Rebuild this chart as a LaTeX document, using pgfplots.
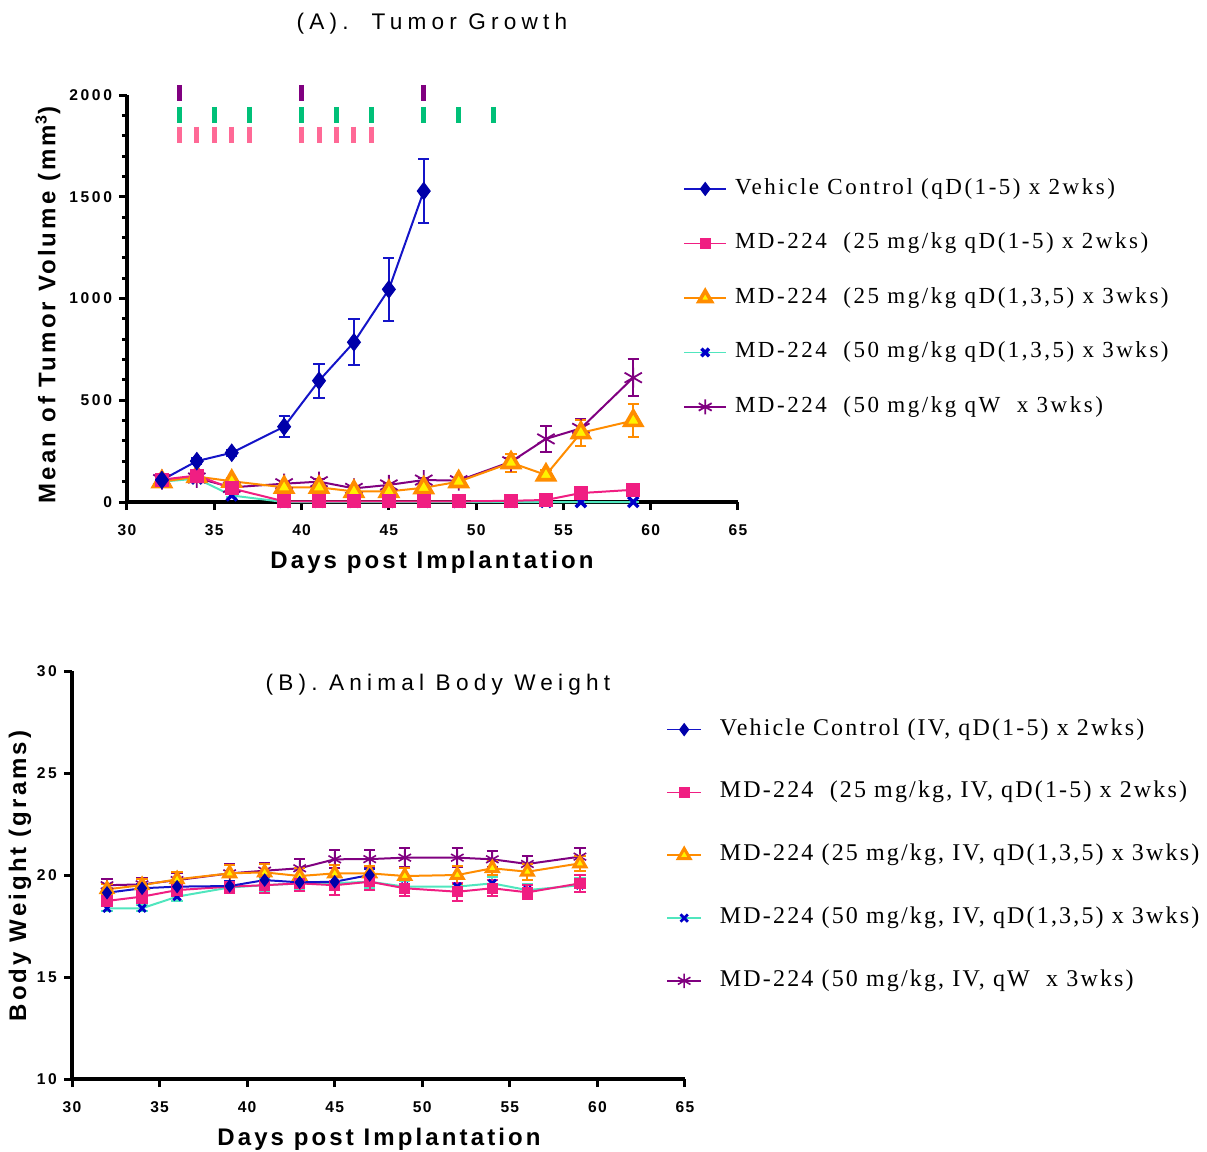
\documentclass[border=0pt]{standalone}
\usepackage{pgfplots}
\usepackage{pgfplotstable}
\pgfplotsset{compat=1.18}
\usepackage{fontspec}
\setmainfont{Liberation Sans}
\newfontfamily\labfont[LetterSpace=13]{Liberation Sans}
\newfontfamily\ytickfont[LetterSpace=17]{Liberation Sans}
\newfontfamily\xtickfont[LetterSpace=8]{Liberation Sans}
\newfontfamily\titfont[LetterSpace=23]{Liberation Sans}
\newfontfamily\legfont[LetterSpace=11]{Liberation Serif}
\newfontfamily\legfontb[LetterSpace=9]{Liberation Serif}

\definecolor{cblue}{RGB}{20,20,200}
\definecolor{cbluem}{RGB}{0,0,170}
\definecolor{cpink}{RGB}{240,30,130}
\definecolor{corange}{RGB}{255,140,0}
\definecolor{cteal}{RGB}{80,230,190}
\definecolor{cxblue}{RGB}{0,0,200}
\definecolor{cpurple}{RGB}{128,0,128}
\definecolor{dpink}{RGB}{255,105,150}
\definecolor{dgreen}{RGB}{0,192,120}

% ---------- (A) tumour volume ----------
\pgfplotstableread{
x y e
32 108 8
34 201 15
36 242 15
39 370 53
41 596 83
43 785 112
45 1045 156
47 1528 158
}\tvA
\pgfplotstableread{
x y e
32 110 10
34 130 15
36 67 10
39 3 1
41 3 1
43 3 1
45 3 1
47 3 1
49 3 1
52 6 2
54 10 3
56 44 6
59 60 8
}\tvB
\pgfplotstableread{
x y e
32 100 10
34 125 15
36 102 15
39 72 10
41 72 10
43 52 10
45 52 10
47 70 10
49 100 10
52 193 45
54 133 25
56 340 65
59 400 80
}\tvC
\pgfplotstableread{
x y e
32 100 8
34 115 10
36 32 8
39 0 1
41 0 1
43 0 1
45 0 1
47 0 1
49 0 1
52 0 1
54 0 1
56 0 1
59 0 1
}\tvD
\pgfplotstableread{
x y e
32 110 10
34 118 15
36 72 10
39 90 10
41 100 12
43 67 10
45 84 10
47 108 10
49 105 10
52 198 20
54 310 65
56 362 45
59 611 92
}\tvE

% ---------- (B) body weight ----------
\pgfplotstableread{
x y e
32 19.13 0.2
34 19.35 0.2
36 19.43 0.2
39 19.46 0.25
41 19.75 0.25
43 19.64 0.25
45 19.67 0.3
47 20.00 0.3
}\bwA
\pgfplotstableread{
x y e
32 18.73 0.25
34 18.94 0.3
36 19.26 0.3
39 19.43 0.3
41 19.50 0.4
43 19.59 0.35
45 19.50 0.5
47 19.67 0.4
49 19.35 0.4
52 19.18 0.45
54 19.35 0.4
56 19.15 0.35
59 19.59 0.4
}\bwB
\pgfplotstableread{
x y e
32 19.30 0.25
34 19.50 0.3
36 19.79 0.35
39 20.08 0.4
41 20.13 0.4
43 19.95 0.4
45 20.08 0.4
47 20.08 0.35
49 19.95 0.4
52 20.00 0.45
54 20.33 0.35
56 20.16 0.4
59 20.57 0.35
}\bwC
\pgfplotstableread{
x y e
32 18.37 0.15
34 18.37 0.15
36 18.94 0.2
39 19.39 0.25
41 19.50 0.3
43 19.59 0.3
45 19.60 0.35
47 19.67 0.3
49 19.43 0.3
52 19.43 0.35
54 19.59 0.3
56 19.26 0.3
59 19.50 0.35
}\bwD
\pgfplotstableread{
x y e
32 19.50 0.3
34 19.54 0.3
36 19.75 0.35
39 20.08 0.45
41 20.21 0.4
43 20.33 0.45
45 20.77 0.45
47 20.78 0.45
49 20.85 0.45
52 20.85 0.45
54 20.77 0.4
56 20.54 0.4
59 20.90 0.4
}\bwE

\pgfplotsset{
  myaxis/.style={
    scale only axis, axis lines=left,
    axis line style={-, line width=2pt},
    tick align=outside, major tick length=4pt, minor tick length=2.5pt,
    every tick/.append style={black, line width=1.5pt},
    xmin=30, xmax=65, xtick={30,35,...,65},
    clip=false,
    yticklabel style={font=\ytickfont\bfseries\fontsize{7.8}{9}\selectfont},
    xticklabel style={yshift=-4pt, font=\xtickfont\bfseries\fontsize{7.8}{9}\selectfont},
    /pgf/number format/assume math mode=true,
    /pgf/number format/1000 sep={},
    legend cell align=left, reverse legend,
  },
  errs/.style={error bars/.cd, y dir=both, y explicit,
    error bar style={line width=1pt},
    error mark options={rotate=90, mark size=2.8pt, line width=1pt}},
}

\begin{document}
\begin{tikzpicture}
\useasboundingbox (0pt,0pt) rectangle (603.5pt,-576pt);

\begin{axis}[myaxis, at={(63.5pt,-251pt)}, anchor=south west,
  width=305.5pt, height=203.5pt,
  ymin=0, ymax=2000, ytick={0,500,...,2000}, minor y tick num=4,
  legend image code/.code={\draw[mark repeat=2,mark phase=2] plot coordinates {(0pt,0pt) (10.5pt,0pt) (21pt,0pt)};},
  legend image post style={line width=0.8pt, every mark/.append style={scale=0.75}},
  legend style={at={(0.91,0.796)}, anchor=north west, draw=none, fill=none,
    inner sep=0pt, row sep=16.75pt, column sep=4pt,
    nodes={inner sep=0pt, text height=8pt, text depth=2.5pt,
      font=\legfont\fontsize{11.5}{13}\selectfont}},
]
% dosing schedule marks
\addplot[forget plot, only marks, mark=|, mark size=4pt, color=cpurple, mark options={line width=2.5pt}]
  coordinates {(33,2010) (40,2010) (47,2010)};
\addplot[forget plot, only marks, mark=|, mark size=4pt, color=dgreen, mark options={line width=2.5pt}]
  coordinates {(33,1902) (35,1902) (37,1902) (40,1902) (42,1902) (44,1902) (47,1902) (49,1902) (51,1902)};
\addplot[forget plot, only marks, mark=|, mark size=4.2pt, color=dpink, mark options={line width=2.5pt}]
  coordinates {(33,1803) (34,1803) (35,1803) (36,1803) (37,1803) (40,1803) (41,1803) (42,1803) (43,1803) (44,1803)};

\addplot[color=cpurple, line width=1pt, mark=asterisk, mark size=5pt, mark options={line width=0.9pt}, errs]
  table[x=x, y=y, y error=e] {\tvE};
\addlegendentry{MD-224\ \ (50 mg/kg qW\ \ x 3wks)}
\addplot[color=cteal, line width=1pt, mark=x, mark size=3.6pt, mark options={draw=cxblue, line width=1.7pt}, errs]
  table[x=x, y=y, y error=e] {\tvD};
\addlegendentry{MD-224\ \ (50 mg/kg qD(1,3,5) x 3wks)}
\addplot[color=corange, line width=1pt, mark=triangle*, mark size=4.8pt, mark options={fill=yellow, draw=corange, line width=1.8pt}, errs]
  table[x=x, y=y, y error=e] {\tvC};
\addlegendentry{MD-224\ \ (25 mg/kg qD(1,3,5) x 3wks)}
\addplot[color=cpink, line width=1pt, mark=square*, mark size=3pt, mark options={fill=cpink}, errs]
  table[x=x, y=y, y error=e] {\tvB};
\addlegendentry{MD-224\ \ (25 mg/kg qD(1-5) x 2wks)}
\addplot[color=cblue, line width=1pt, mark=diamond*, mark size=4.3pt, mark options={fill=cbluem, draw=cbluem, line width=0.5pt}, errs]
  table[x=x, y=y, y error=e] {\tvA};
\addlegendentry{Vehicle Control (qD(1-5) x 2wks)}
\end{axis}

\begin{axis}[myaxis, at={(36pt,-539.5pt)}, anchor=south west,
  width=306.5pt, height=204pt,
  ymin=10, ymax=30, ytick={10,15,...,30},
  legend image code/.code={\draw[mark repeat=2,mark phase=2] plot coordinates {(0pt,0pt) (8.5pt,0pt) (17pt,0pt)};},
  legend image post style={line width=0.8pt, every mark/.append style={scale=1.0}},
  legend style={at={(0.969,0.883)}, anchor=north west, draw=none, fill=none,
    inner sep=0pt, row sep=20.9pt, column sep=9pt,
    nodes={inner sep=0pt, text height=8pt, text depth=2.5pt,
      font=\legfontb\fontsize{12}{14}\selectfont}},
]
\addplot[color=cpurple, line width=1pt, mark=asterisk, mark size=3.6pt, mark options={line width=0.8pt}, errs]
  table[x=x, y=y, y error=e] {\bwE};
\addlegendentry{MD-224 (50 mg/kg, IV, qW\ \ x 3wks)}
\addplot[color=cteal, line width=1pt, mark=x, mark size=2.6pt, mark options={draw=cxblue, line width=1.4pt}, errs]
  table[x=x, y=y, y error=e] {\bwD};
\addlegendentry{MD-224 (50 mg/kg, IV, qD(1,3,5) x 3wks)}
\addplot[color=corange, line width=1pt, mark=triangle*, mark size=3.4pt, mark options={fill=yellow, draw=corange, line width=1.5pt}, errs]
  table[x=x, y=y, y error=e] {\bwC};
\addlegendentry{MD-224 (25 mg/kg, IV, qD(1,3,5) x 3wks)}
\addplot[color=cpink, line width=1pt, mark=square*, mark size=2.3pt, mark options={fill=cpink}, errs]
  table[x=x, y=y, y error=e] {\bwB};
\addlegendentry{MD-224\ \ (25 mg/kg, IV, qD(1-5) x 2wks)}
\addplot[color=cblue, line width=1pt, mark=diamond*, mark size=3pt, mark options={fill=cbluem, draw=cbluem, line width=0.5pt}, errs]
  table[x=x, y=y, y error=e] {\bwA};
\addlegendentry{Vehicle Control (IV, qD(1-5) x 2wks)}
\end{axis}

% titles and axis labels
\node[font=\titfont\fontsize{11.3}{13}\selectfont] at (216pt,-12pt) {(A).\ \ Tumor Growth};
\node[font=\labfont\bfseries\fontsize{12}{14}\selectfont] at (216pt,-281pt) {Days post Implantation};
\node[rotate=90, font=\labfont\bfseries\fontsize{12}{14}\selectfont] at (24pt,-152.5pt) {Mean of Tumor Volume (mm\textsuperscript{3})};
\node[font=\titfont\fontsize{11.3}{13}\selectfont] at (219pt,-342.5pt) {(B). Animal Body Weight};
\node[font=\labfont\bfseries\fontsize{12}{14}\selectfont] at (189.5pt,-569.5pt) {Days post Implantation};
\node[rotate=90, font=\labfont\bfseries\fontsize{12}{14}\selectfont] at (10pt,-438pt) {Body Weight (grams)};
\end{tikzpicture}
\end{document}
